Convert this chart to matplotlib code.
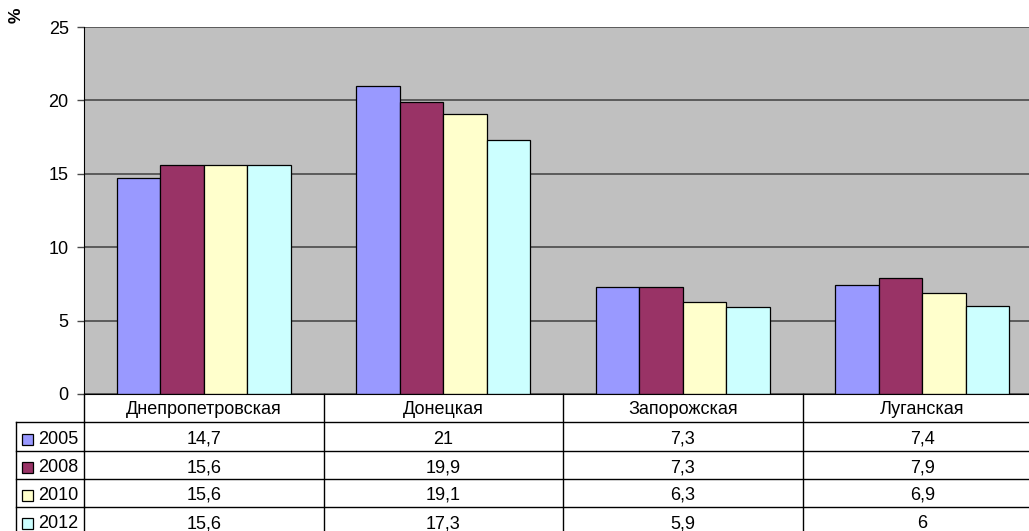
import matplotlib
matplotlib.use("Agg")
import matplotlib.pyplot as plt
import numpy as np
from matplotlib.transforms import blended_transform_factory
from matplotlib.patches import Rectangle

regions = ["Днепропетровская", "Донецкая", "Запорожская", "Луганская"]
years = ["2005", "2008", "2010", "2012"]
v2005 = [14.7, 21, 7.3, 7.4]
v2008 = [15.6, 19.9, 7.3, 7.9]
v2010 = [15.6, 19.1, 6.3, 6.9]
v2012 = [15.6, 17.3, 5.9, 6]
series = [v2005, v2008, v2010, v2012]
colors = ["#9999FF", "#993366", "#FFFFCC", "#CCFFFF"]

plt.rcParams["font.family"] = ["Liberation Sans", "DejaVu Sans"]
fs = 13

W, H = 1029, 531
fig = plt.figure(figsize=(W / 100, H / 100), dpi=100)
fig.patch.set_facecolor("white")

# plot area in pixels (it runs past the right edge, as in the original)
x0, y_top, y_zero, cat_w = 84, 27, 394, 239.5
ax = fig.add_axes([x0 / W, (H - y_zero) / H, 4 * cat_w / W, (y_zero - y_top) / H])
ax.set_facecolor("#C0C0C0")
ax.set_xlim(-0.5, 3.5)
ax.set_ylim(0, 25)
ax.set_yticks(np.arange(0, 26, 5))
ax.set_xticks([])
ax.yaxis.grid(True, color="#4a4a4a", linewidth=1.2)
ax.set_axisbelow(True)
for s in ["top", "right"]:
    ax.spines[s].set_visible(False)
ax.spines["left"].set_color("black")
ax.spines["bottom"].set_color("black")
ax.tick_params(axis="y", direction="out", length=5, width=1, color="#4a4a4a",
               labelsize=fs, pad=6)

x = np.arange(len(regions))
bw = 43.5 / cat_w
for i, (vals, c) in enumerate(zip(series, colors)):
    ax.bar(x + (i - 1.5) * bw, vals, bw, color=c, edgecolor="black", linewidth=0.9)

fig.text(16 / W, 1 - 15 / H, "%", rotation=90, ha="center", va="center",
         fontsize=12.5, fontweight="bold")

# data table below the plot
tax = fig.add_axes([0, 0, 1, 1])
tax.set_xlim(0, W)
tax.set_ylim(H, 0)
tax.axis("off")
trans = blended_transform_factory(ax.transData, tax.transData)

rows = [394, 422, 451, 478.5, 506.5, 535]
lab_left = 16
edges = np.arange(len(regions) + 1) - 0.5
lc = "black"
for xe in edges:
    tax.plot([xe, xe], [rows[0], rows[-1]], color=lc, lw=1, transform=trans, clip_on=False)
tax.plot([lab_left, lab_left], [rows[1], rows[-1]], color=lc, lw=1, clip_on=False)
for ye in rows[1:]:
    tax.plot([lab_left, x0], [ye, ye], color=lc, lw=1, clip_on=False)
    tax.plot([edges[0], edges[-1]], [ye, ye], color=lc, lw=1, transform=trans, clip_on=False)

for j, name in enumerate(regions):
    tax.text(j, (rows[0] + rows[1]) / 2 + 1.5, name, ha="center", va="center",
             fontsize=fs, transform=trans)
for i, (yr, vals, c) in enumerate(zip(years, series, colors)):
    yc = (rows[i + 1] + rows[i + 2]) / 2 + 3
    tax.add_patch(Rectangle((22, yc - 5.5), 11, 11, facecolor=c, edgecolor="black", lw=0.9))
    tax.text(38, yc, yr, ha="left", va="center", fontsize=fs)
    for j, v in enumerate(vals):
        tax.text(j, yc, f"{v:g}".replace(".", ","), ha="center", va="center",
                 fontsize=fs, transform=trans)

fig.savefig("out.png", dpi=100)
